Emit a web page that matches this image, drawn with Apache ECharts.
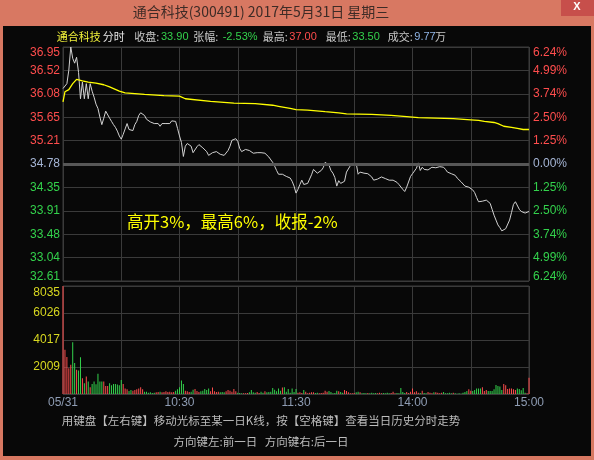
<!DOCTYPE html>
<html><head><meta charset="utf-8">
<script src="https://cdn.jsdelivr.net/npm/echarts@6/dist/echarts.min.js"></script>
<style>html,body{margin:0;padding:0;background:#d87862;}#c{width:594px;height:460px;}</style>
</head><body><div id="c"></div>
<script>
// ---------- data ----------
const prevClose = 34.78;
const priceMin = 32.61, priceMax = 36.95, priceStep = 0.434;
const priceTicks = ['32.61','33.04','33.48','33.91','34.35','34.78','35.21','35.65','36.08','36.52','36.95'];
const pctTicks = ['6.24%','4.99%','3.74%','2.50%','1.25%','0.00%','1.25%','2.50%','3.74%','4.99%','6.24%'];
const volMax = 8035;
const volTicks = ['','2009','4017','6026','8035'];
const timeTickMinutes = [0,60,120,180,240];
const timeTickLabels = ['05/31','10:30','11:30','14:00','15:00'];

const priceVals = [
36.18,36.21,36.27,36.52,36.95,36.74,36.65,36.76,36.48,35.99,
36.30,35.99,36.27,35.99,36.27,36.13,36.02,35.89,35.81,35.65,
35.51,35.63,35.76,35.79,35.63,35.57,35.51,35.46,35.39,35.30,
35.24,35.33,35.43,35.53,35.42,35.40,35.40,35.51,35.57,35.68,
35.73,35.73,35.68,35.61,35.58,35.56,35.55,35.53,35.53,35.53,
35.48,35.53,35.53,35.53,35.53,35.53,35.58,35.61,35.57,35.44,
35.30,35.18,34.92,35.11,35.16,35.19,35.11,34.99,34.99,35.10,
35.14,35.11,35.08,35.06,35.01,34.94,34.95,34.99,35.00,35.01,
35.01,34.96,34.95,34.94,34.94,35.03,35.11,35.22,35.25,35.25,
35.20,35.07,35.01,35.03,35.05,35.05,35.03,35.01,34.98,34.97,
34.99,35.00,34.99,34.98,34.98,34.95,34.91,34.88,34.81,34.74,
34.66,34.59,34.57,34.59,34.57,34.55,34.54,34.52,34.46,34.37,
34.24,34.31,34.40,34.48,34.40,34.40,34.42,34.50,34.58,34.68,
34.66,34.61,34.63,34.66,34.71,34.81,34.82,34.76,34.66,34.61,
34.53,34.37,34.47,34.42,34.40,34.46,34.63,34.66,34.75,34.79,
34.82,34.79,34.59,34.63,34.62,34.61,34.60,34.60,34.58,34.54,
34.48,34.45,34.50,34.52,34.54,34.52,34.51,34.50,34.48,34.48,
34.48,34.48,34.44,34.40,34.37,34.31,34.27,34.35,34.38,34.55,
34.60,34.60,34.70,34.80,34.66,34.72,34.68,34.66,34.67,34.70,
34.72,34.70,34.71,34.72,34.73,34.74,34.72,34.68,34.63,34.61,
34.60,34.60,34.57,34.52,34.49,34.45,34.42,34.37,34.34,34.35,
34.35,34.30,34.25,34.16,34.08,34.05,34.09,34.10,34.11,34.09,
34.05,33.94,33.83,33.74,33.65,33.60,33.54,33.56,33.58,33.61,
33.74,33.88,34.03,34.08,34.05,33.94,33.90,33.89,33.87,33.88,
33.90];

const avgMinutes = [0,1,3,5,7,10,13,17,21,24,29,32,42,52,60,63,76,88,99,100,108,111,117,120,126,135,142,146,159,169,177,183,201,210,214,217,222,224,227,231,234,237,240];
const avgVals = [35.93,36.12,36.16,36.27,36.35,36.32,36.30,36.28,36.25,36.21,36.13,36.10,36.07,36.05,36.04,35.99,35.94,35.91,35.90,35.88,35.87,35.85,35.81,35.79,35.78,35.75,35.73,35.71,35.70,35.68,35.66,35.64,35.62,35.60,35.59,35.57,35.55,35.53,35.48,35.46,35.44,35.42,35.42];

const volVals = [
8035,3300,2750,1925,2175,3850,2300,1800,1750,2725,
1175,800,1300,925,500,750,925,725,1500,925,
925,925,600,600,800,650,750,750,700,650,
1050,750,400,350,225,300,250,300,350,400,
500,350,175,175,100,125,75,100,125,150,
175,125,150,200,150,175,125,150,250,350,
500,1000,750,250,200,150,175,325,375,225,
150,200,250,375,300,400,200,475,200,150,
175,125,150,125,200,300,250,175,375,200,
100,75,50,50,50,75,125,300,125,100,
150,75,175,100,200,125,150,175,450,325,
200,400,250,475,500,175,375,100,400,150,
375,100,125,75,300,175,50,100,125,125,
75,100,50,75,100,250,175,225,150,50,
75,250,200,150,100,300,225,125,50,50,
75,125,175,125,50,75,50,75,50,100,
50,75,50,100,50,75,50,100,50,75,
175,50,75,50,450,150,75,150,75,175,
400,125,200,100,75,250,75,50,150,100,
50,125,125,100,50,100,150,50,50,100,
50,100,50,25,50,25,100,150,225,350,
250,225,300,400,400,400,500,225,300,225,
225,225,350,675,600,550,300,750,650,375,
400,400,350,300,400,375,275,450,100,50,
1200];

// ---------- styles ----------
const FONT = "'Liberation Sans','Noto Sans CJK SC',sans-serif";
const CJK = "'Noto Sans CJK SC','Liberation Sans',sans-serif";
const RED = '#ff4d4d', GREEN = '#33d24c', FLAT = '#a6b6d6', YEL = '#ffff00';
const GRID = '#3a3a3a';

function priceIdx(v){ return Math.round((v - priceMin) / priceStep); }
function edge(text, idx, last){
  if (idx === last) return '{t|' + text + '}';
  if (idx === 0) return '{b|' + text + '}';
  return text;
}
const edgeRich = {
  t: { padding: [12,0,0,0], fontSize: 12, fontFamily: FONT },
  b: { padding: [0,0,8,0], fontSize: 12, fontFamily: FONT }
};
function sideColor(v){ const i = priceIdx(v); return i > 5 ? RED : (i < 5 ? GREEN : FLAT); }

const chart = echarts.init(document.getElementById('c'), null, {renderer: 'canvas'});

const hdrY = 37;
function t(x, y, text, color, size, font, extra){
  return Object.assign({ type: 'text', x: x, y: y, z: 10, silent: true,
    style: { text: text, fill: color, fontSize: size, fontFamily: font || CJK, verticalAlign: 'middle', align: 'left' } }, extra || {});
}

chart.setOption({
  animation: false,
  backgroundColor: '#d87862',
  graphic: [
    { type: 'rect', z: -100, silent: true, shape: { x: 3, y: 26, width: 588, height: 430 }, style: { fill: '#080808' } },
    { type: 'rect', z: -90, silent: true, shape: { x: 561, y: 0, width: 33, height: 16 }, style: { fill: '#c74f4b' } },
    { type: 'text', x: 577, y: 7, z: 10, silent: true, style: { text: 'X', fill: '#ffffff', fontSize: 11, fontWeight: 'bold', fontFamily: FONT, align: 'center', verticalAlign: 'middle' } },
    { type: 'text', x: 261, y: 12, z: 10, silent: true, style: { text: '通合科技(300491) 2017年5月31日 星期三', fill: '#3d2b26', fontSize: 14, fontFamily: CJK, align: 'center', verticalAlign: 'middle' } },
    t(56.7, hdrY, '通合科技', '#f2f23a', 11),
    t(102.7, hdrY, '分时', '#e6e6e6', 11),
    t(134.3, hdrY, '收盘:', '#c8c8c8', 11),
    t(161, hdrY, '33.90', GREEN, 11, FONT),
    t(193.3, hdrY, '张幅:', '#c8c8c8', 11),
    t(222.7, hdrY, '-2.53%', GREEN, 11, FONT),
    t(262.7, hdrY, '最高:', '#c8c8c8', 11),
    t(289.3, hdrY, '37.00', RED, 11, FONT),
    t(325.7, hdrY, '最低:', '#c8c8c8', 11),
    t(352.3, hdrY, '33.50', GREEN, 11, FONT),
    t(387.7, hdrY, '成交:', '#c8c8c8', 11),
    t(414.3, hdrY, '9.77', '#8fb4e6', 11, FONT),
    t(435, hdrY, '万', '#c8c8c8', 11),
    t(127, 222, '高开3%，最高6%，收报-2%', YEL, 16.5),
    { type: 'text', x: 261, y: 421, z: 10, silent: true, style: { text: '用键盘【左右键】移动光标至某一日K线，按【空格键】查看当日历史分时走势', fill: '#bdbdbd', fontSize: 11.5, fontFamily: CJK, align: 'center', verticalAlign: 'middle' } },
    { type: 'text', x: 261, y: 442, z: 10, silent: true, style: { text: '方向键左:前一日   方向键右:后一日', fill: '#bdbdbd', fontSize: 11.5, fontFamily: CJK, align: 'center', verticalAlign: 'middle' } }
  ],
  grid: [
    { left: 63, top: 47, width: 466, height: 234, show: true, borderColor: GRID, borderWidth: 1, backgroundColor: 'transparent', containLabel: false },
    { left: 63, top: 286, width: 466, height: 108, show: true, borderColor: GRID, borderWidth: 1, backgroundColor: 'transparent', containLabel: false }
  ],
  xAxis: [
    { type: 'value', gridIndex: 0, min: 0, max: 240, interval: 30,
      axisLine: { show: false }, axisTick: { show: false }, axisLabel: { show: false },
      splitLine: { show: true, lineStyle: { color: GRID, width: 1 } } },
    { type: 'value', gridIndex: 1, min: 0, max: 240, interval: 30,
      axisLine: { show: false }, axisTick: { show: false },
      axisLabel: { show: true, margin: 3, fontSize: 12, fontFamily: FONT, color: '#8e9cb3', showMinLabel: true, showMaxLabel: true,
        formatter: function (v) { const i = timeTickMinutes.indexOf(Math.round(v)); return i >= 0 ? timeTickLabels[i] : ''; } },
      splitLine: { show: true, lineStyle: { color: GRID, width: 1 } } }
  ],
  yAxis: [
    { type: 'value', gridIndex: 0, position: 'left', min: priceMin, max: priceMax, interval: priceStep,
      axisLine: { show: false }, axisTick: { show: false },
      splitLine: { show: true, lineStyle: { color: GRID, width: 1 } },
      axisLabel: { margin: 3, fontSize: 12, fontFamily: FONT, showMinLabel: true, showMaxLabel: true,
        color: function (v) { return sideColor(v); },
        formatter: function (v) { const i = priceIdx(v); return edge(priceTicks[i] || '', i, 10); },
        rich: edgeRich } },
    { type: 'value', gridIndex: 0, position: 'right', min: priceMin, max: priceMax, interval: priceStep,
      axisLine: { show: false }, axisTick: { show: false }, splitLine: { show: false },
      axisLabel: { margin: 4, fontSize: 12, fontFamily: FONT, showMinLabel: true, showMaxLabel: true,
        color: function (v) { return sideColor(v); },
        formatter: function (v) { const i = priceIdx(v); return edge(pctTicks[i] || '', i, 10); },
        rich: edgeRich } },
    { type: 'value', gridIndex: 1, position: 'left', min: 0, max: volMax, interval: volMax / 4,
      axisLine: { show: false }, axisTick: { show: false },
      splitLine: { show: true, lineStyle: { color: GRID, width: 1 } },
      axisLabel: { margin: 3, fontSize: 12, fontFamily: FONT, color: '#d8d820', showMinLabel: true, showMaxLabel: true,
        formatter: function (v) { const i = Math.round(v / (volMax / 4)); const s = volTicks[i] || ''; return i === 4 ? '{t|' + s + '}' : s; },
        rich: { t: { padding: [14,0,0,0], fontSize: 12, fontFamily: FONT } } } }
  ],
  series: [
    { type: 'line', xAxisIndex: 0, yAxisIndex: 0, data: [], z: 1, silent: true,
      markLine: { silent: true, symbol: ['none','none'], label: { show: false },
        lineStyle: { color: '#575757', width: 3, type: 'solid' }, data: [{ yAxis: prevClose }] } },
    { type: 'line', xAxisIndex: 0, yAxisIndex: 0, z: 3, silent: true, showSymbol: false, clip: true,
      data: priceVals.map(function (v, i) { return [i, v]; }),
      lineStyle: { color: '#d2d2d2', width: 1 } },
    { type: 'line', xAxisIndex: 0, yAxisIndex: 0, z: 4, silent: true, showSymbol: false,
      data: avgMinutes.map(function (m, i) { return [m, avgVals[i]]; }),
      lineStyle: { color: YEL, width: 1.3 } },
    { type: 'bar', xAxisIndex: 1, yAxisIndex: 2, silent: true, barWidth: 1,
      data: volVals.map(function (v, i) { return [i, v]; }),
      itemStyle: { color: function (p) {
        const i = p.dataIndex; const prev = i === 0 ? prevClose : priceVals[i - 1];
        return priceVals[i] >= prev ? RED : GREEN; } } }
  ]
});
</script></body></html>
